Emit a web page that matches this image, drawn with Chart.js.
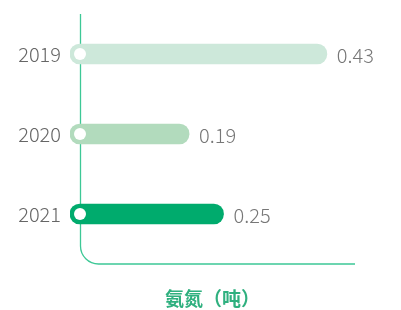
<!DOCTYPE html>
<html>
<head>
<meta charset="utf-8">
<script src="https://cdn.jsdelivr.net/npm/chart.js@4"></script>
<style>
  html, body { margin:0; padding:0; background:#fff; }
  #wrap { width:401px; height:310px; position:relative; }
</style>
</head>
<body>
<div id="wrap"><canvas id="chart"></canvas></div>
<script>
const years = ["2019", "2020", "2021"];
const values = [0.43, 0.19, 0.25];
const valueLabels = ["0.43", "0.19", "0.25"];
const barColors = ["#cde8da", "#b2dbbd", "#00ab6d"];
const axisTitle = "氨氮（吨）";

const FONT = "'Noto Sans CJK SC', 'Noto Sans', sans-serif";
const PAD = 0.0174; // ~10px so the rounded cap sits around the axis

function $(id){ return document.getElementById(id); }

// axis line with rounded corner + value labels
const decor = {
  id: "decor",
  beforeDatasetsDraw(chart){
    const { ctx, chartArea, scales } = chart;
    const x0 = Math.round(scales.x.getPixelForValue(0)) + 0.5;
    const yBottom = chartArea.bottom + 10;
    const r = 18;
    ctx.save();
    ctx.strokeStyle = "#3dc896";
    ctx.lineWidth = 1.3;
    ctx.beginPath();
    ctx.moveTo(x0, chartArea.top);
    ctx.lineTo(x0, yBottom - r);
    ctx.arcTo(x0, yBottom, x0 + r, yBottom, r);
    ctx.lineTo(chartArea.right, yBottom);
    ctx.stroke();
    ctx.restore();
  },
  afterDatasetsDraw(chart){
    const { ctx } = chart;
    const meta = chart.getDatasetMeta(1);
    ctx.save();
    ctx.font = "300 20px " + FONT;
    ctx.fillStyle = "#777";
    ctx.textAlign = "left";
    ctx.textBaseline = "middle";
    meta.data.forEach((bar, i) => {
      ctx.fillText(valueLabels[i], bar.x + 10, bar.y + 1);
    });
    ctx.restore();
  }
};

new Chart($("chart"), {
  data: {
    labels: years,
    datasets: [
      {
        type: "line",
        data: years.map(() => 0),
        showLine: false,
        pointRadius: 6,
        pointBackgroundColor: "#fff",
        pointBorderWidth: 0,
        order: 0
      },
      {
        type: "bar",
        data: values,
        base: -PAD,
        backgroundColor: barColors,
        barThickness: 20,
        borderRadius: 10,
        borderSkipped: false,
        order: 1
      }
    ]
  },
  options: {
    indexAxis: "y",
    responsive: true,
    maintainAspectRatio: false,
    animation: false,
    layout: { padding: { top: 14, right: 46, bottom: 0, left: 0 } },
    plugins: { legend: { display: false }, tooltip: { enabled: false } },
    scales: {
      x: {
        min: -PAD,
        max: 0.479,
        grid: { display: false },
        border: { display: false },
        ticks: { display: false },
        afterFit(scale){ scale.height = 56; scale.paddingLeft = 0; scale.paddingRight = 0; },
        title: {
          display: true,
          text: axisTitle,
          color: "#2fb07f",
          font: { family: FONT, size: 19, weight: "bold" },
          padding: { top: 0, bottom: 0 }
        }
      },
      y: {
        grid: { display: false, drawTicks: false },
        border: { display: false },
        afterFit(scale){ scale.width = 70; scale.paddingTop = 0; scale.paddingBottom = 0; },
        ticks: {
          color: "#666",
          padding: 9,
          font: { family: FONT, size: 20, weight: 300 }
        }
      }
    }
  },
  plugins: [decor]
});
</script>
</body>
</html>
